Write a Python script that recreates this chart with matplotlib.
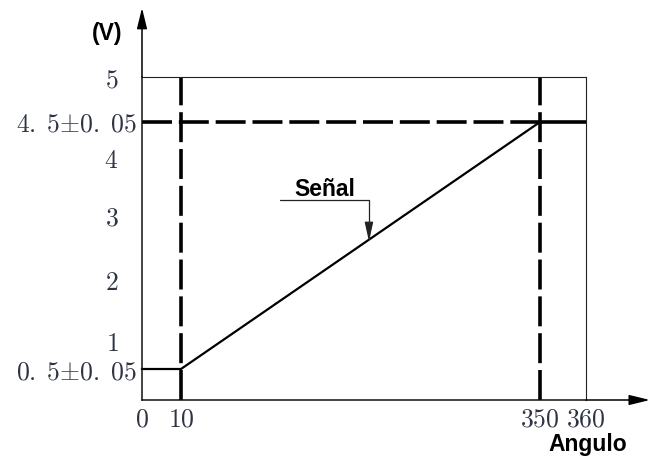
import numpy as np
import matplotlib
matplotlib.use("Agg")
import matplotlib.pyplot as plt

plt.rcParams["mathtext.fontset"] = "cm"

# ---------------- data ----------------
x_tick_values = [0, 10, 350, 360]
x_tick_labels = [r"$0$", r"$10$", r"$350$", r"$360$"]
y_tick_values = [1, 2, 3, 4, 5]
y_tick_labels = [r"$1$", r"$2$", r"$3$", r"$4$", r"$5$"]
y_special_values = [0.5, 4.5]
y_special_labels = [r"$0.\;5{\pm}0.\;05$", r"$4.\;5{\pm}0.\;05$"]

signal_angle = [0, 10, 350]
signal_volt = [0.5, 0.5, 4.5]
ref_angles = [10, 350]       # vertical dashed reference lines
ref_volt = 4.5               # horizontal dashed reference line
x_range = [0, 360]
y_range = [0, 5]

# ---------------- schematic (non-linear) scales ----------------
x_knots = [0, 10, 350, 360]
x_knot_pos = [0, 39, 398, 444]
y_knots = [0, 0.5, 1, 2, 3, 4, 4.5, 5]
y_knot_pos = [0, 31, 59, 120, 185, 242, 278, 323]


def fx(v):
    return np.interp(v, x_knots, x_knot_pos)


def ix(v):
    return np.interp(v, x_knot_pos, x_knots)


def fy(v):
    return np.interp(v, y_knots, y_knot_pos)


def iy(v):
    return np.interp(v, y_knot_pos, y_knots)


W, H = 659, 457
fig = plt.figure(figsize=(W / 100, H / 100), dpi=100)
ax = fig.add_axes([142 / W, (H - 400) / H, 444 / W, 323 / H])
ax.set_xscale("function", functions=(fx, ix))
ax.set_yscale("function", functions=(fy, iy))
ax.set_xlim(*x_range)
ax.set_ylim(*y_range)

for s in ["left", "bottom"]:
    ax.spines[s].set_linewidth(1.1)
    ax.spines[s].set_color("#111111")
for s in ["top", "right"]:
    ax.spines[s].set_linewidth(0.8)
    ax.spines[s].set_color("#222222")

tick_color = "#2e3444"
fs = 18.5

ax.set_xticks(x_tick_values, labels=x_tick_labels)
ax.set_xticks([], minor=True)
ax.tick_params(axis="x", which="both", length=0, pad=5, labelsize=fs,
               labelcolor=tick_color)
ax.set_yticks(y_special_values, labels=y_special_labels)
ax.set_yticks(y_tick_values, labels=y_tick_labels, minor=True)
ax.tick_params(axis="y", which="major", length=0, pad=4, labelsize=fs,
               labelcolor=tick_color)
ax.tick_params(axis="y", which="minor", length=0, pad=17, labelsize=fs,
               labelcolor=tick_color)

# reference lines
dash_kw = dict(color="black", lw=2.6, dashes=(8.3, 1.9), clip_on=False,
               solid_capstyle="butt")
for a in ref_angles:
    ax.plot([a, a], y_range, **dash_kw)
ax.plot([x_range[0], ref_angles[1]], [ref_volt, ref_volt], **dash_kw)
ax.plot([ref_angles[1], x_range[1]], [ref_volt, ref_volt], color="black",
        lw=2.6, clip_on=False, solid_capstyle="butt")

# signal
ax.plot(signal_angle, signal_volt, color="black", lw=1.6, clip_on=False,
        solid_joinstyle="miter")

# axis arrows
arrow_kw = dict(arrowstyle="-|>,head_length=0.9,head_width=0.22", color="black",
                lw=1.1, shrinkA=0, shrinkB=0, mutation_scale=14)
ax.annotate("", xy=(0, 1.214), xytext=(0, 1.0), xycoords="axes fraction",
            textcoords="axes fraction", arrowprops=arrow_kw)
ax.annotate("", xy=(1.144, 0), xytext=(1.0, 0), xycoords="axes fraction",
            textcoords="axes fraction", arrowprops=arrow_kw)

sans = "Liberation Sans"
ax.text(-0.079, 1.136, "(V)", transform=ax.transAxes, ha="center", va="center",
        fontsize=16.5, fontweight="bold", fontfamily=sans)
ax.text(1.003, -0.138, "Angulo", transform=ax.transAxes, ha="center",
        va="center", fontsize=16.5, fontweight="bold", fontfamily=sans)

# Señal callout
tip_x = 188
tip_y = np.interp(tip_x, signal_angle[1:], signal_volt[1:])
ax.annotate("", xy=(tip_x, tip_y), xytext=(-89, 41), textcoords="offset pixels",
            arrowprops=dict(arrowstyle="-|>,head_length=0.9,head_width=0.2",
                            connectionstyle="angle,angleA=0,angleB=90,rad=0",
                            color="#222222", lw=0.9, shrinkA=0, shrinkB=0,
                            mutation_scale=13))
ax.annotate("Señal", xy=(tip_x, tip_y), xytext=(-44, 52),
            textcoords="offset pixels", ha="center", va="center",
            fontsize=16.5, fontweight="bold", fontfamily=sans)

fig.savefig("out.png", dpi=100)
